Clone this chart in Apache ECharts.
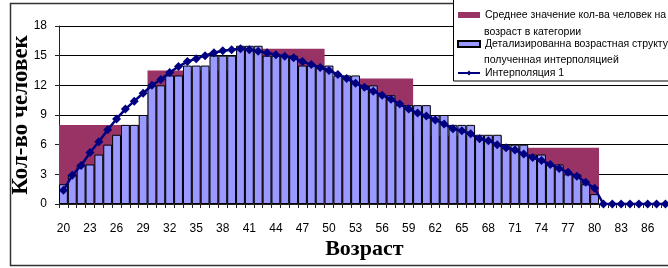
<!DOCTYPE html>
<html><head><meta charset="utf-8">
<script src="https://cdn.jsdelivr.net/npm/echarts@6/dist/echarts.min.js"></script>
<style>html,body{margin:0;padding:0;background:#fff}#c{width:668px;height:268px}</style>
</head><body><div id="c"></div>
<script>
const ages = ['20','21','22','23','24','25','26','27','28','29','30','31','32','33','34','35','36','37','38','39','40','41','42','43','44','45','46','47','48','49','50','51','52','53','54','55','56','57','58','59','60','61','62','63','64','65','66','67','68','69','70','71','72','73','74','75','76','77','78','79','80','81','82','83','84','85','86','87','88','89'];
const groupFirstAge = ['20','30','40','50','60','70'];
const groupLastAge  = ['29','39','49','59','69','80'];
const groupAverage  = [8.0, 13.5, 15.7, 12.7, 6.9, 5.7];
const detailed = [2,3,4,4,5,6,7,8,8,9, 12,12,13,13,14,14,14,15,15,15, 16,16,16,15,15,15,15,14,14,14, 14,13,13,13,12,12,11,11,10,10, 10,10,9,9,8,8,8,7,7,7, 6,6,6,5,5,4,4,3,3,2, 1, '-','-','-','-','-','-','-','-','-'];
const interp = [1.4,2.9,3.9,5.2,6.3,7.5,8.6,9.6,10.4,11.2, 12.0,12.6,13.3,13.9,14.4,14.7,15.0,15.3,15.5,15.6, 15.7,15.6,15.45,15.3,15.1,14.95,14.8,14.4,14.1,13.8, 13.5,13.1,12.7,12.2,11.8,11.4,11.0,10.6,10.1,9.6, 9.2,8.9,8.5,8.1,7.6,7.4,7.1,6.6,6.4,6.0, 5.7,5.45,5.05,4.7,4.4,4.0,3.6,3.2,2.8,2.2, 1.6, 0,0,0,0,0,0,0,0,0];
const yTicks = [0,3,6,9,12,15,18];
const names = ['Среднее значение кол-ва человек на возраст в категории','Детализированна возрастная структура, полученная интерполяцией','Интерполяция 1'];
const firstLines = {'Среднее значение кол-ва человек на возраст в категории':'Среднее значение кол-ва человек на','Детализированна возрастная структура, полученная интерполяцией':'Детализированна возрастная структура,','Интерполяция 1':'Интерполяция 1'};
const secondLines = ['возраст в категории','полученная интерполяцией'];

const groupData = groupAverage.map(function(v,i){return [ages.indexOf(groupFirstAge[i]), ages.indexOf(groupLastAge[i]), v];});
const sans = "'Liberation Sans',Arial,sans-serif";
const chart = echarts.init(document.getElementById('c'), null, {renderer:'canvas'});
chart.setOption({
  animation:false,
  backgroundColor:'#fff',
  grid:{left:59, top:26, width:619.7, height:178, containLabel:false, outerBoundsMode:'none'},
  xAxis:{type:'category', data:ages, boundaryGap:true,
    name:'Возраст', nameLocation:'middle', nameGap:34, nameMoveOverlap:false,
    nameTextStyle:{fontFamily:"'Liberation Serif','Times New Roman',serif", fontWeight:'bold', fontSize:22, color:'#000', padding:[0,9,0,0]},
    axisLine:{lineStyle:{color:'#222', width:1}},
    axisTick:{show:true, interval:0, alignWithLabel:false, length:4, lineStyle:{color:'#222'}},
    axisLabel:{interval:2, margin:19, fontFamily:sans, fontSize:12, color:'#000', hideOverlap:false},
    splitLine:{show:false}
  },
  yAxis:{type:'value', min:0, max:18, interval:3,
    name:'Кол-во человек', nameLocation:'middle', nameRotate:90, nameGap:26, nameMoveOverlap:false,
    nameTextStyle:{fontFamily:"'Liberation Serif','Times New Roman',serif", fontWeight:'bold', fontSize:23, color:'#000'},
    axisLine:{show:true, lineStyle:{color:'#222', width:1}},
    axisTick:{show:true, length:4, lineStyle:{color:'#222'}},
    axisLabel:{margin:12, fontFamily:sans, fontSize:12, color:'#000',
      formatter:function(v){return yTicks.indexOf(v)>=0?String(v):'';}},
    splitLine:{show:true, lineStyle:{color:'#000', width:1}}
  },
  legend:{orient:'vertical', left:457, top:8, padding:0, itemWidth:22, itemHeight:6, itemGap:15,
    data:[{name:names[0], icon:'rect'}, {name:names[1], icon:'rect'}, {name:names[2]}], selectedMode:false,
    formatter:function(n){return firstLines[n];},
    textStyle:{fontFamily:sans, fontSize:10.5, lineHeight:14, color:'#000'}},
  graphic:[
    {type:'rect', z:1, shape:{x:10.5, y:3.5, width:720, height:262}, style:{fill:null, stroke:'#333', lineWidth:1.5}},
    {type:'rect', z:3, shape:{x:453.5, y:-1, width:300, height:82}, style:{fill:'#fff', stroke:'#000', lineWidth:1}},
    {type:'text', z:5, left:484, top:27, style:{text:secondLines[0], font:"10.5px "+sans, fill:'#000'}},
    {type:'text', z:5, left:484, top:55, style:{text:secondLines[1], font:"10.5px "+sans, fill:'#000'}}
  ],
  series:[
    {name:names[0], type:'custom', data:groupData, encode:{x:[0,1], y:2}, z:1,
      itemStyle:{color:'#993366'},
      renderItem:function(params, api){
        var s = api.value(0), e = api.value(1), v = api.value(2);
        var bw = api.size([1,0])[0];
        var p0 = api.coord([s, v]);
        var p1 = api.coord([e, 0]);
        return {type:'rect', shape:{x:p0[0]-bw/2, y:p0[1], width:p1[0]-p0[0]+bw, height:p1[1]-p0[1]},
          style:{fill:'#993366'}};
      }},
    {name:names[1], type:'bar', data:detailed, barCategoryGap:'0%',
      itemStyle:{color:'#9999FF', borderColor:'#000', borderWidth:1}, z:3},
    {name:names[2], type:'line', data:interp, symbol:'diamond', symbolSize:9, showAllSymbol:true,
      lineStyle:{color:'#000080', width:2.5}, itemStyle:{color:'#000080'}, z:5}
  ]
});
</script></body></html>
